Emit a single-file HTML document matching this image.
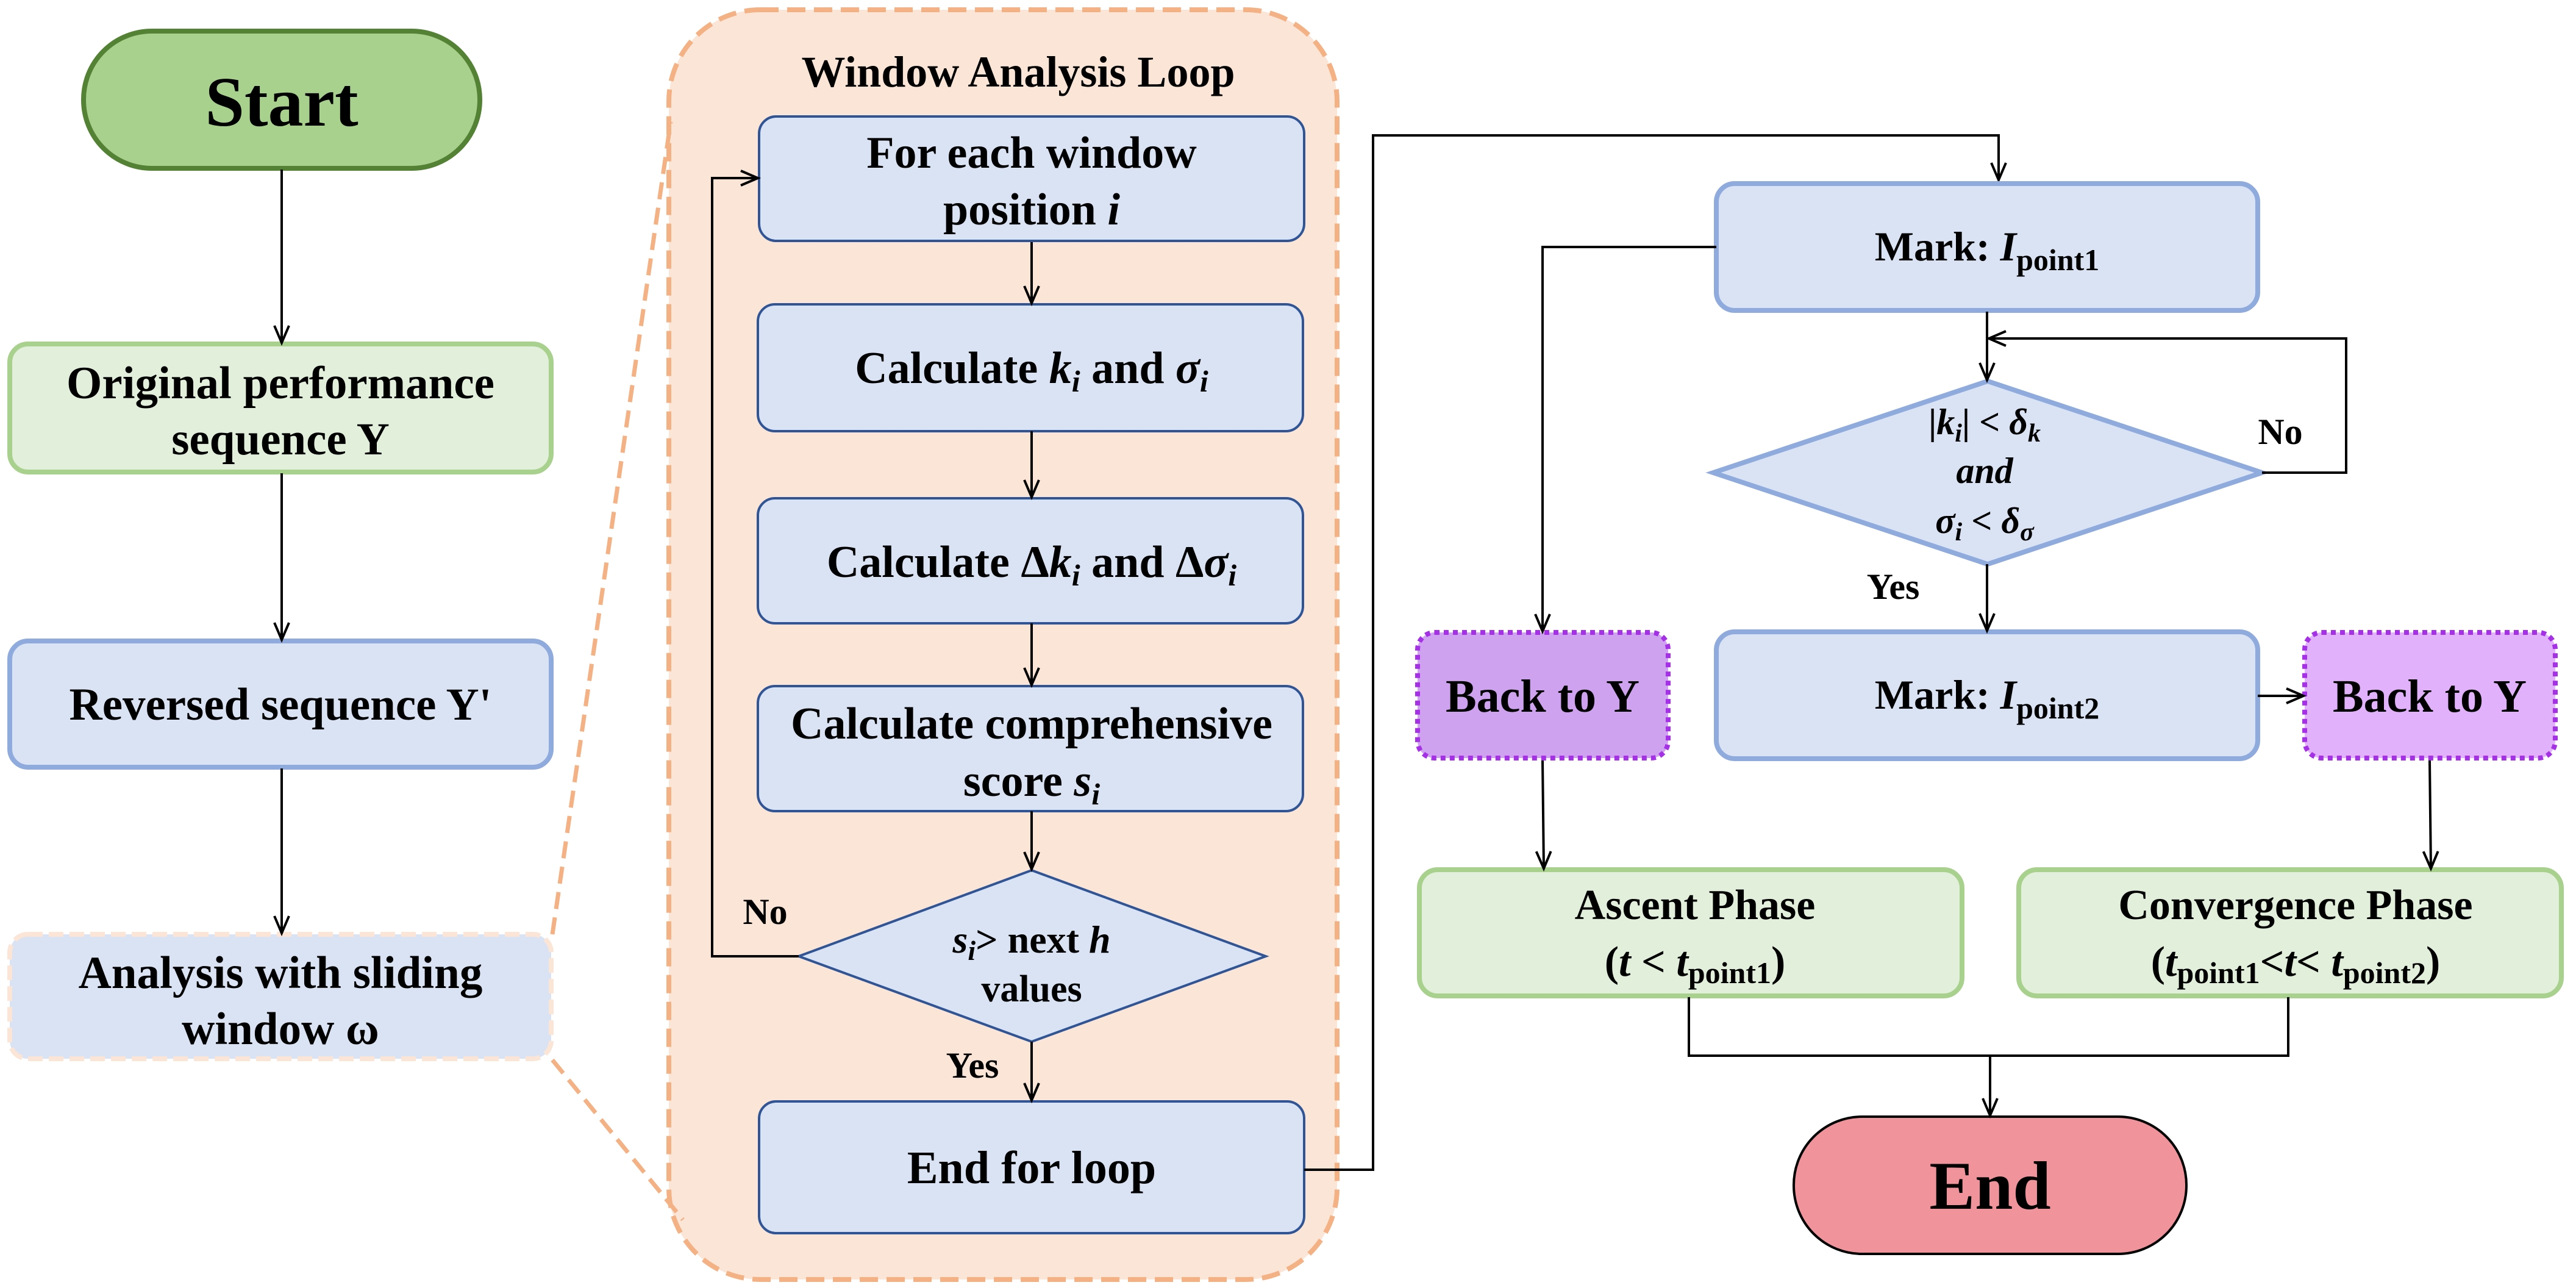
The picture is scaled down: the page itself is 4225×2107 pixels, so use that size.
<!DOCTYPE html>
<html><head><meta charset="utf-8"><style>
html,body{margin:0;padding:0;background:#fff}
svg{display:block}
text{font-family:"Liberation Serif",serif;font-weight:bold;fill:#000}
</style></head><body>
<svg width="4225" height="2107" viewBox="0 0 4225 2107" xmlns="http://www.w3.org/2000/svg">
<defs>
<marker id="a" markerWidth="40" markerHeight="40" refX="30" refY="15" orient="auto" markerUnits="userSpaceOnUse">
<path d="M2,3 L30,15 L2,27" fill="none" stroke="#000" stroke-width="4"/>
</marker>
</defs>
<rect x="1097" y="16" width="1096" height="2082" rx="150" fill="#fbe5d6" stroke="#f4b183" stroke-width="8" stroke-dasharray="30,14"/>
<line x1="906" y1="1532" x2="1100" y2="200" stroke="#f4b183" stroke-width="7" stroke-dasharray="28,14"/>
<line x1="906" y1="1738" x2="1120" y2="2000" stroke="#f4b183" stroke-width="7" stroke-dasharray="28,14"/>

<rect x="137" y="51" width="650" height="225" rx="112" fill="#a9d18e" stroke="#548235" stroke-width="8"/>
<text x="462" y="206" font-size="116" text-anchor="middle">Start</text>
<rect x="16" y="564" width="888" height="210" rx="30" fill="#e2efda" stroke="#a9d18e" stroke-width="8"/>
<text x="460" y="653" font-size="75" text-anchor="middle">Original performance</text>
<text x="460" y="745" font-size="75" text-anchor="middle">sequence Y</text>
<rect x="16" y="1051" width="888" height="207" rx="30" fill="#dae3f3" stroke="#8faadc" stroke-width="8"/>
<text x="460" y="1180" font-size="75" text-anchor="middle">Reversed sequence Y'</text>
<rect x="16" y="1532" width="888" height="204" rx="30" fill="#dae3f3" stroke="#fbe5d6" stroke-width="8" stroke-dasharray="24,10"/>
<text x="460" y="1620" font-size="75" text-anchor="middle">Analysis with sliding</text>
<text x="460" y="1712" font-size="75" text-anchor="middle">window  ω</text>
<line x1="462" y1="278" x2="462" y2="562" stroke="#000" stroke-width="4" marker-end="url(#a)"/>
<line x1="462" y1="776" x2="462" y2="1049" stroke="#000" stroke-width="4" marker-end="url(#a)"/>
<line x1="462" y1="1260" x2="462" y2="1530" stroke="#000" stroke-width="4" marker-end="url(#a)"/>

<text x="1670" y="142" font-size="72" text-anchor="middle">Window Analysis Loop</text>
<g fill="#dae3f3" stroke="#2f5597" stroke-width="4">
<rect x="1245" y="191" width="894" height="204" rx="28"/>
<rect x="1243" y="499" width="894" height="208" rx="28"/>
<rect x="1243" y="817" width="894" height="205" rx="28"/>
<rect x="1243" y="1125" width="894" height="205" rx="28"/>
<polygon points="1310,1568 1692,1427 2076,1568 1692,1708"/>
<rect x="1245" y="1806" width="894" height="216" rx="28"/>
</g>
<text x="1692" y="275" font-size="74" text-anchor="middle">For each window</text>
<text x="1692" y="368" font-size="74" text-anchor="middle">position <tspan font-style="italic">i</tspan></text>
<text x="1692" y="628" font-size="74" text-anchor="middle">Calculate <tspan font-style="italic">k<tspan font-size="50" dy="14">i</tspan></tspan><tspan dy="-14"> and </tspan><tspan font-style="italic">σ<tspan font-size="50" dy="14">i</tspan></tspan></text>
<text x="1692" y="946" font-size="74" text-anchor="middle">Calculate Δ<tspan font-style="italic">k<tspan font-size="50" dy="14">i</tspan></tspan><tspan dy="-14"> and Δ</tspan><tspan font-style="italic">σ<tspan font-size="50" dy="14">i</tspan></tspan></text>
<text x="1692" y="1211" font-size="74" text-anchor="middle">Calculate comprehensive</text>
<text x="1692" y="1305" font-size="74" text-anchor="middle">score <tspan font-style="italic">s<tspan font-size="50" dy="14">i</tspan></tspan></text>
<text x="1692" y="1562" font-size="64" text-anchor="middle"><tspan font-style="italic">s<tspan font-size="46" dy="12">i</tspan></tspan><tspan dy="-12">&gt; next </tspan><tspan font-style="italic">h</tspan></text>
<text x="1692" y="1642" font-size="62" text-anchor="middle">values</text>
<text x="1692" y="1940" font-size="76" text-anchor="middle">End for loop</text>
<text x="1255" y="1515" font-size="60" text-anchor="middle">No</text>
<text x="1595" y="1767" font-size="60" text-anchor="middle">Yes</text>
<g stroke="#000" stroke-width="4" fill="none">
<line x1="1692" y1="397" x2="1692" y2="497" marker-end="url(#a)"/>
<line x1="1692" y1="707" x2="1692" y2="815" marker-end="url(#a)"/>
<line x1="1692" y1="1022" x2="1692" y2="1123" marker-end="url(#a)"/>
<line x1="1692" y1="1330" x2="1692" y2="1425" marker-end="url(#a)"/>
<line x1="1692" y1="1708" x2="1692" y2="1804" marker-end="url(#a)"/>
<polyline points="1310,1568 1168,1568 1168,292 1243,292" marker-end="url(#a)"/>
<polyline points="2139,1918 2252,1918 2252,222 3278,222 3278,295" marker-end="url(#a)"/>
</g>

<g stroke-width="8">
<rect x="2815" y="301" width="888" height="208" rx="30" fill="#dae3f3" stroke="#8faadc"/>
<polygon points="2810,775 3260,625 3710,775 3260,925" fill="#dae3f3" stroke="#8faadc"/>
<rect x="2815" y="1036" width="888" height="208" rx="30" fill="#dae3f3" stroke="#8faadc"/>
<rect x="2325" y="1037" width="411" height="206" rx="28" fill="#cea2ee" stroke="#a530e8" stroke-dasharray="8,7"/>
<rect x="3780" y="1037" width="411" height="206" rx="28" fill="#e1b2fb" stroke="#a530e8" stroke-dasharray="8,7"/>
<rect x="2328" y="1426" width="890" height="207" rx="30" fill="#e2efda" stroke="#a9d18e"/>
<rect x="3311" y="1426" width="890" height="207" rx="30" fill="#e2efda" stroke="#a9d18e"/>
<rect x="2942" y="1831" width="644" height="225" rx="112" fill="#f0939b" stroke="#000" stroke-width="4"/>
</g>
<text x="3259" y="427" font-size="68" text-anchor="middle">Mark: <tspan font-style="italic">I</tspan><tspan font-size="50" dy="16">point1</tspan></text>
<text x="3255" y="712" font-size="60" text-anchor="middle">|<tspan font-style="italic">k<tspan font-size="42" dy="12">i</tspan></tspan><tspan dy="-12">| &lt; </tspan><tspan font-style="italic">δ<tspan font-size="42" dy="12">k</tspan></tspan></text>
<text x="3255" y="792" font-size="60" text-anchor="middle" font-style="italic">and</text>
<text x="3255" y="874" font-size="60" text-anchor="middle"><tspan font-style="italic">σ<tspan font-size="42" dy="12">i</tspan></tspan><tspan dy="-12"> &lt; </tspan><tspan font-style="italic">δ<tspan font-size="42" dy="12">σ</tspan></tspan></text>
<text x="3259" y="1162" font-size="68" text-anchor="middle">Mark: <tspan font-style="italic">I</tspan><tspan font-size="50" dy="16">point2</tspan></text>
<text x="2530" y="1167" font-size="76" text-anchor="middle">Back to Y</text>
<text x="3985" y="1167" font-size="76" text-anchor="middle">Back to Y</text>
<text x="2780" y="1507" font-size="70" text-anchor="middle">Ascent Phase</text>
<text x="2780" y="1600" font-size="70" text-anchor="middle">(<tspan font-style="italic">t</tspan> &lt; <tspan font-style="italic">t</tspan><tspan font-size="50" dy="12">point1</tspan><tspan dy="-12">)</tspan></text>
<text x="3765" y="1507" font-size="70" text-anchor="middle">Convergence Phase</text>
<text x="3765" y="1600" font-size="70" text-anchor="middle">(<tspan font-style="italic">t</tspan><tspan font-size="50" dy="12">point1</tspan><tspan dy="-12">&lt;</tspan><tspan font-style="italic">t</tspan>&lt; <tspan font-style="italic">t</tspan><tspan font-size="50" dy="12">point2</tspan><tspan dy="-12">)</tspan></text>
<text x="3264" y="1982" font-size="112" text-anchor="middle">End</text>
<text x="3740" y="728" font-size="60" text-anchor="middle">No</text>
<text x="3105" y="982" font-size="60" text-anchor="middle">Yes</text>
<g stroke="#000" stroke-width="4" fill="none">
<line x1="3259" y1="511" x2="3259" y2="623" marker-end="url(#a)"/>
<polyline points="3710,775 3848,775 3848,555 3262,555" marker-end="url(#a)"/>
<line x1="3259" y1="925" x2="3259" y2="1034" marker-end="url(#a)"/>
<polyline points="2815,405 2530,405 2530,1035" marker-end="url(#a)"/>
<line x1="3703" y1="1141" x2="3778" y2="1141" marker-end="url(#a)"/>
<line x1="2530" y1="1247" x2="2532" y2="1424" marker-end="url(#a)"/>
<line x1="3985" y1="1247" x2="3987" y2="1424" marker-end="url(#a)"/>
<polyline points="2770,1635 2770,1731 3753,1731 3753,1635"/>
<line x1="3264" y1="1731" x2="3264" y2="1829" marker-end="url(#a)"/>
</g>
</svg>
</body></html>
